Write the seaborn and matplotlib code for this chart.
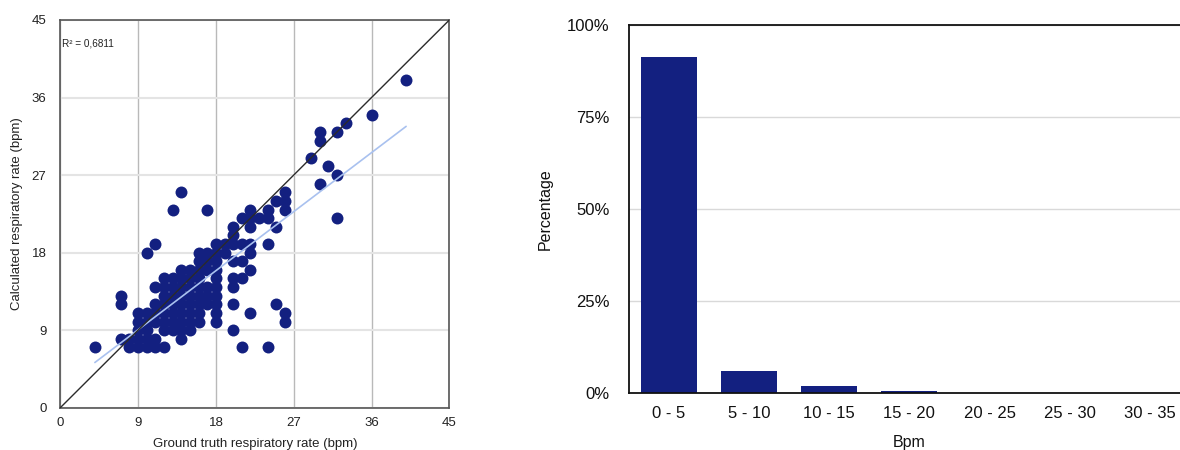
import matplotlib
matplotlib.use("Agg")
import numpy as np
import pandas as pd
import matplotlib.pyplot as plt
from matplotlib.ticker import PercentFormatter, FixedLocator
import seaborn as sns

# Respiratory rate per recording (bpm): reference device vs. estimate
ground_truth = [
    4, 8, 9, 10, 11, 12, 21, 24,
    7, 8, 9, 10, 11, 14,
    9, 10, 12, 13, 14, 15, 20,
    9, 10, 11, 12, 13, 14, 15, 16, 18, 26,
    9, 10, 11, 12, 13, 14, 15, 16, 18, 22, 26,
    7, 11, 12, 13, 14, 15, 16, 17, 18, 20, 25,
    7, 12, 13, 14, 15, 16, 17, 18,
    11, 12, 13, 14, 15, 16, 17, 18, 20,
    12, 13, 14, 15, 16, 18, 20, 21,
    14, 15, 16, 17, 18, 22,
    16, 17, 18, 20, 21,
    10, 16, 17, 18, 19, 22,
    11, 18, 19, 20, 21, 22, 24,
    20,
    20, 22, 25,
    21, 22, 23, 24, 32,
    13, 17, 22, 24, 26,
    25, 26,
    14, 26,
    30, 32, 31, 29, 30, 30, 32, 33, 36, 40,
]
calculated = [
    7, 7, 7, 7, 7, 7, 7, 7,
    8, 8, 8, 8, 8, 8,
    9, 9, 9, 9, 9, 9, 9,
    10, 10, 10, 10, 10, 10, 10, 10, 10, 10,
    11, 11, 11, 11, 11, 11, 11, 11, 11, 11, 11,
    12, 12, 12, 12, 12, 12, 12, 12, 12, 12, 12,
    13, 13, 13, 13, 13, 13, 13, 13,
    14, 14, 14, 14, 14, 14, 14, 14, 14,
    15, 15, 15, 15, 15, 15, 15, 15,
    16, 16, 16, 16, 16, 16,
    17, 17, 17, 17, 17,
    18, 18, 18, 18, 18, 18,
    19, 19, 19, 19, 19, 19, 19,
    20,
    21, 21, 21,
    22, 22, 22, 22, 22,
    23, 23, 23, 23, 23,
    24, 24,
    25, 25,
    26, 27, 28, 29, 31, 32, 32, 33, 34, 38,
]
r2_label = "R² = 0,6811"
rate_ticks = [0, 9, 18, 27, 36, 45]

# Share of recordings per absolute-error band
error_bands = ["0 - 5", "5 - 10", "10 - 15", "15 - 20", "20 - 25", "25 - 30", "30 - 35"]
error_share = [91.2, 6.1, 2.1, 0.7, 0.0, 0.0, 0.0]
share_ticks = [0, 25, 50, 75, 100]

NAVY = "#132080"

sns.set_theme(style="white")
plt.rcParams["font.family"] = ["Liberation Sans", "DejaVu Sans"]

fig = plt.figure(figsize=(11.8, 4.5), dpi=100)

# ---- Scatter: estimate vs reference ----
ax1 = fig.add_axes([0.0511, 0.094, 0.3297, 0.8616])
pairs = pd.DataFrame({"truth": ground_truth, "calc": calculated})

ax1.set_xlim(0, 45)
ax1.set_ylim(0, 45)
ax1.xaxis.set_major_locator(FixedLocator(rate_ticks))
ax1.yaxis.set_major_locator(FixedLocator(rate_ticks))
ax1.grid(axis="x", color="#b9b9b9", linewidth=1.0)
ax1.grid(axis="y", color="#e4e4e4", linewidth=1.5)
ax1.set_axisbelow(True)

sns.scatterplot(data=pairs, x="truth", y="calc", ax=ax1, color=NAVY,
                s=74, linewidth=0, alpha=1, zorder=3)
sns.regplot(data=pairs, x="truth", y="calc", ax=ax1, scatter=False, ci=None,
            truncate=True, line_kws={"color": "#a9c1ef", "linewidth": 1.2, "zorder": 4})
ax1.plot([0, 45], [0, 45], color="#2b2b2b", linewidth=1.0, zorder=5)

ax1.text(0.2, 42.3, r2_label, fontsize=7.2, va="center", ha="left", color="#222222")

for sp in ax1.spines.values():
    sp.set_visible(True)
    sp.set_color("#555555")
    sp.set_linewidth(1.2)
ax1.tick_params(axis="both", length=0, labelsize=9.5, colors="#222222")
ax1.tick_params(axis="x", pad=7)
ax1.tick_params(axis="y", pad=10)
ax1.set_xlabel("Ground truth respiratory rate (bpm)", fontsize=9.5, labelpad=6, color="#222222")
ax1.set_ylabel("Calculated respiratory rate (bpm)", fontsize=9.5, labelpad=6, color="#222222")

# ---- Bars: error distribution ----
ax2 = fig.add_axes([0.533, 0.126, 0.4754, 0.8184])
bars = pd.DataFrame({"band": error_bands, "share": error_share})
ax2.grid(axis="y", color="#d9d9d9", linewidth=1.0)
ax2.set_axisbelow(True)
sns.barplot(data=bars, x="band", y="share", ax=ax2, color=NAVY, width=0.7,
            saturation=1, linewidth=0)
ax2.set_xlim(-0.5, len(error_bands) - 0.5)
ax2.set_ylim(0, 100)
ax2.yaxis.set_major_locator(FixedLocator(share_ticks))
ax2.yaxis.set_major_formatter(PercentFormatter(decimals=0))
for name, sp in ax2.spines.items():
    sp.set_visible(name != "right")
    sp.set_color("#111111")
    sp.set_linewidth(1.3)
ax2.tick_params(axis="both", length=0, labelsize=12, colors="#111111")
ax2.tick_params(axis="y", pad=14)
ax2.tick_params(axis="x", pad=9)
ax2.set_xlabel("Bpm", fontsize=11.5, labelpad=10, color="#111111")
ax2.set_ylabel("Percentage", fontsize=11.5, labelpad=10, color="#111111")

fig.savefig("out.png", dpi=100)
